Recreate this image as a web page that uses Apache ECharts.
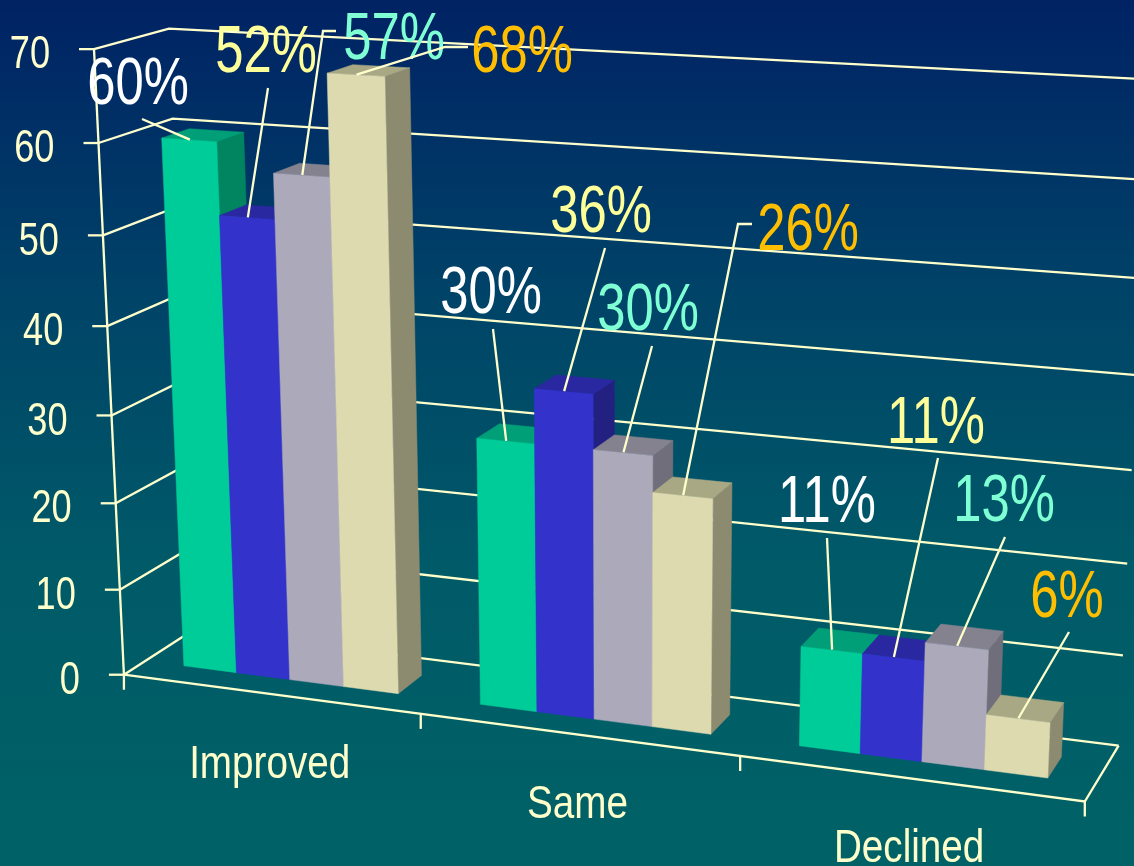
<!DOCTYPE html>
<html><head><meta charset="utf-8">
<style>html,body{margin:0;padding:0;background:#004060}#chart{width:1134px;height:866px}</style>
<script src="https://cdn.jsdelivr.net/npm/echarts@6/dist/echarts.min.js"></script>
</head><body><div id="chart"></div>
<script>
// ---- data ----
const categories = ['Improved', 'Same', 'Declined'];
const valueTicks = [0, 10, 20, 30, 40, 50, 60, 70];
const seriesGreen = [60, 30, 11];
const seriesBlue = [52, 36, 11];
const seriesGrey = [57, 30, 13];
const seriesTan = [68, 26, 6];

// ---- bar series styles: front, top, side ----
const barStyles = [
  ['#00CC99', '#009F78', '#008560'],
  ['#3333CC', '#2A28A0', '#222080'],
  ['#ABA9BA', '#84828F', '#6F6E7A'],
  ['#DDDAB0', '#A9A885', '#8C8B70']
];
const labelColors = ['#FFFFFF', '#FFFF99', '#7FFFD4', '#FFBF00'];
const lineColor = '#FFFFCC';

// ---- layout of the value labels [series][category]: label centre, leader end, optional elbow end ----
const labelLayout = [
  [{c:[138,80],l:[[142,119]]}, {c:[491,289],l:[[493,329]]}, {c:[827,498],l:[[827,538]]}],
  [{c:[266,48],l:[[268,88]]}, {c:[601,208],l:[[605,248]]}, {c:[936,419],l:[[938,458]]}],
  [{c:[394,35],l:[[323,31],[336,31]]}, {c:[648,306],l:[[652,346]]}, {c:[1004,497],l:[[1005,537]]}],
  [{c:[522,48],l:[[445,47],[468,47]]}, {c:[808,226],l:[[738,224],[752,224]]}, {c:[1067,593],l:[[1069,632]]}]
];

// ---- camera: frame anchors (band position, value, depth) -> screen ----
const frameAnchors = [
  [0,0,0,124,675],[1,0,0,420,714],[2,0,0,740,757],[3,0,0,1085,801],
  [0,70,0,95,49],[0,60,0,98,143],[0,10,0,120,589],
  [0,70,1,168,29],[0,60,1,173,118],[0,0,1,194,630],
  [3,0,1,1118,745],[3,70,1,1148,79],[3,60,1,1146,181],[3,50,1,1143,278]
];
const barZ0 = 0.30, barZ1 = 0.68, barX0 = 0.135, barX1 = 0.865, yMax = 70;

function solve(A, b) {
  const n = b.length;
  for (let i = 0; i < n; i++) {
    let m = i;
    for (let r = i + 1; r < n; r++) if (Math.abs(A[r][i]) > Math.abs(A[m][i])) m = r;
    [A[i], A[m]] = [A[m], A[i]]; [b[i], b[m]] = [b[m], b[i]];
    for (let r = i + 1; r < n; r++) {
      const f = A[r][i] / A[i][i];
      for (let c = i; c < n; c++) A[r][c] -= f * A[i][c];
      b[r] -= f * b[i];
    }
  }
  const x = new Array(n).fill(0);
  for (let i = n - 1; i >= 0; i--) {
    let s = b[i];
    for (let c = i + 1; c < n; c++) s -= A[i][c] * x[c];
    x[i] = s / A[i][i];
  }
  return x;
}
function fitCamera() {
  const N = Array.from({length: 11}, () => new Array(11).fill(0)), R = new Array(11).fill(0);
  const add = (row, t) => { for (let i = 0; i < 11; i++) { R[i] += row[i] * t; for (let j = 0; j < 11; j++) N[i][j] += row[i] * row[j]; } };
  frameAnchors.forEach(([u, v, z, X, Y]) => {
    const w = v / yMax, x = X / 1000, y = Y / 1000;
    add([u, w, z, 1, 0, 0, 0, 0, -x * u, -x * w, -x * z], x);
    add([0, 0, 0, 0, u, w, z, 1, -y * u, -y * w, -y * z], y);
  });
  return solve(N, R);
}
const cam = fitCamera();
function project(u, v, z) {
  const w = v / yMax, d = cam[8] * u + cam[9] * w + cam[10] * z + 1;
  return [1000 * (cam[0] * u + cam[1] * w + cam[2] * z + cam[3]) / d,
          1000 * (cam[4] * u + cam[5] * w + cam[6] * z + cam[7]) / d];
}
// axis scale -> camera: position in a category band and a value go through api.coord first
function scene(params, api) {
  const cs = params.coordSys, band = api.size([1, 0])[0];
  return (cat, frac, value, z) => {
    const p = api.coord([cat, value]);
    const u = (p[0] - band / 2 + frac * band - cs.x) / band;
    const v = (cs.y + cs.height - p[1]) / cs.height * yMax;
    return project(u, v, z);
  };
}
const poly = (points, fill) => ({type: 'polygon', shape: {points}, style: {fill, stroke: fill, lineWidth: 0.5}});
const line = (points, width) => ({type: 'polyline', shape: {points}, style: {fill: 'none', stroke: lineColor, lineWidth: width || 2.3}});
const text = (str, x, y, size, sx, fill, align) => ({type: 'text', x, y: y + size * 0.09, scaleX: sx, scaleY: 1,
  style: {text: str, x: 0, y: 0, fontSize: size, fontFamily: '"Liberation Sans", Arial, sans-serif', fill, align: align || 'center', verticalAlign: 'middle'}});

function renderFrame(params, api) {
  const P = scene(params, api), ch = [];
  valueTicks.forEach(t => {
    const a = P(0, 0, t, 0), b = P(0, 0, t, 1), c = P(2, 1, t, 1);
    ch.push(line([a, b, c]));
    ch.push(line([[a[0] - 15, a[1]], a]));
    ch.push(text(String(t), a[0] - 44, a[1] + 2, 47, 0.77, lineColor, 'right'));
  });
  ch.push(line([P(0, 0, 0, 0), P(0, 0, yMax, 0)]));
  ch.push(line([P(0, 0, 0, 0), P(2, 1, 0, 0), P(2, 1, 0, 1)]));
  for (let i = 0; i <= categories.length; i++) {
    const a = i < categories.length ? P(i, 0, 0, 0) : P(i - 1, 1, 0, 0);
    ch.push(line([a, [a[0], a[1] + 15]]));
  }
  categories.forEach((c, i) => {
    const m = P(i, 0.5, 0, 0);
    ch.push(text(c, m[0], m[1] + 67, 46, 0.84, lineColor));
  });
  return {type: 'group', children: ch};
}
function renderBar(s) {
  return (params, api) => {
    const P = scene(params, api), cat = api.value(0), val = api.value(1), k = (barX1 - barX0) / 4;
    const x0 = barX0 + s * k, x1 = x0 + k, [front, top, side] = barStyles[s];
    return {type: 'group', children: [
      poly([P(cat, x1, 0, barZ0), P(cat, x1, 0, barZ1), P(cat, x1, val, barZ1), P(cat, x1, val, barZ0)], side),
      poly([P(cat, x0, val, barZ0), P(cat, x1, val, barZ0), P(cat, x1, val, barZ1), P(cat, x0, val, barZ1)], top),
      poly([P(cat, x0, 0, barZ0), P(cat, x1, 0, barZ0), P(cat, x1, val, barZ0), P(cat, x0, val, barZ0)], front)
    ]};
  };
}
function renderLabel(s) {
  return (params, api) => {
    const P = scene(params, api), cat = api.value(0), val = api.value(1), k = (barX1 - barX0) / 4;
    const start = P(cat, barX0 + (s + 0.5) * k, val, barZ0 + 0.01), lay = labelLayout[s][cat];
    return {type: 'group', children: [
      line([start].concat(lay.l)),
      text(val + '%', lay.c[0], lay.c[1], 66, 0.77, labelColors[s])
    ]};
  };
}
const allSeries = [seriesGreen, seriesBlue, seriesGrey, seriesTan];
const toData = vals => vals.map((v, i) => [i, v]);
const option = {
  animation: false,
  backgroundColor: {type: 'linear', x: 0, y: 0, x2: 0, y2: 1, colorStops: [
    {offset: 0, color: '#002264'}, {offset: 0.35, color: '#004468'}, {offset: 0.65, color: '#005a68'}, {offset: 1, color: '#006266'}]},
  grid: {left: 0, right: 0, top: 0, bottom: 0},
  xAxis: {type: 'category', data: categories, show: false},
  yAxis: {type: 'value', min: 0, max: yMax, interval: 10, show: false},
  tooltip: {show: false},
  series: [
    {type: 'custom', name: 'frame', silent: true, clip: false, renderItem: renderFrame, data: [[0, 0]], z: 1}
  ].concat(
    allSeries.map((vals, s) => ({type: 'custom', name: 'bars' + s, silent: true, clip: false, renderItem: renderBar(s), data: toData(vals), z: 2 + s})),
    allSeries.map((vals, s) => ({type: 'custom', name: 'labels' + s, silent: true, clip: false, renderItem: renderLabel(s), data: toData(vals), z: 10}))
  )
};
echarts.init(document.getElementById('chart')).setOption(option);
</script></body></html>
